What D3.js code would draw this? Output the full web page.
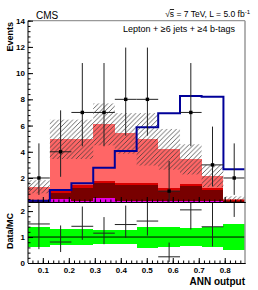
<!DOCTYPE html>
<html><head><meta charset="utf-8">
<script src="https://cdn.jsdelivr.net/npm/d3@7"></script>
<style>body{margin:0;background:#fff}svg{display:block}text{font-family:"Liberation Sans",Arial,Helvetica,sans-serif}</style>
</head><body><svg id="c" width="258" height="290"></svg>
<script>
// ---- data ----
const binEdges=[0.043,0.127,0.210,0.294,0.377,0.461,0.544,0.628,0.711,0.795,0.878];
const dataCounts=[2,4,7,7,8,8,1,7,3,2];
const dataErrLow=[1.29,1.91,2.58,2.58,2.77,2.77,0.83,2.58,1.63,1.29];
const dataErrHigh=[2.64,3.16,3.77,3.77,3.95,3.95,2.30,3.77,2.92,2.64];
const bkgOther=[0.20,0.37,0.24,0.50,0.24,0.24,0.24,0.24,0.22,0.20];
const bkgTTbb=[0.10,0.51,0.97,1.09,1.22,1.20,0.79,1.15,0.86,0.08];
const bkgTTcc=[0.05,0.25,0.25,0.20,0.13,0.20,0.18,0.13,0.13,0.05];
const bkgTTlf=[0.98,3.82,3.49,4.30,3.81,3.31,2.98,1.90,0.94,0.07];
const mcUnc=[0.50,1.50,1.50,1.60,1.55,2.00,1.55,1.15,0.85,0.20];
const signal=[0.27,1.08,1.59,2.78,4.06,5.87,6.93,8.25,8.20,2.66];
const xTicks=[0.1,0.2,0.3,0.4,0.5,0.6,0.7,0.8];
const yTicks=[2,4,6,8,10,12,14];
const rTicks=[0,1,2];

const svg=d3.select("#c");
const L=28,R=245,T=20.7,MB=202,RB=263;
const x=d3.scaleLinear().domain([binEdges[0],binEdges[binEdges.length-1]]).range([L,R]);
const y=d3.scaleLinear().domain([0,14]).range([204.2,T]);
const yr=d3.scaleLinear().domain([0,2.35]).range([RB,MB]);

const defs=svg.append("defs");
defs.append("clipPath").attr("id","cm").append("rect").attr("x",L).attr("y",T).attr("width",R-L).attr("height",MB-T);
defs.append("clipPath").attr("id","cr").append("rect").attr("x",L).attr("y",MB).attr("width",R-L).attr("height",RB-MB);
const pat=defs.append("pattern").attr("id","hatch").attr("patternUnits","userSpaceOnUse").attr("width",4.7).attr("height",4.7);
pat.append("path").attr("d","M-1,1 l2,-2 M0,4.7 l4.7,-4.7 M3.7,5.7 l2,-2").attr("stroke","#333").attr("stroke-width",0.75);

const bins=dataCounts.map((d,i)=>({i,x0:binEdges[i],x1:binEdges[i+1],data:d,lo:dataErrLow[i],hi:dataErrHigh[i],
  other:bkgOther[i],ttbb:bkgTTbb[i],ttcc:bkgTTcc[i],ttlf:bkgTTlf[i],unc:mcUnc[i],sig:signal[i]}));
bins.forEach(b=>b.total=b.other+b.ttbb+b.ttcc+b.ttlf);
const keys=["other","ttbb","ttcc","ttlf"];
const colors={other:"#e600e6",ttbb:"#780000",ttcc:"#d90000",ttlf:"#ff6666"};
const stack=d3.stack().keys(keys)(bins);

const gm=svg.append("g").attr("clip-path","url(#cm)");
stack.forEach(layer=>{
  gm.append("g").selectAll("rect").data(layer).join("rect")
    .attr("x",d=>x(d.data.x0)).attr("width",d=>x(d.data.x1)-x(d.data.x0))
    .attr("y",d=>y(d[1])).attr("height",d=>y(d[0])-y(d[1]))
    .attr("fill",colors[layer.key]).attr("shape-rendering","crispEdges");
});
// hatch uncertainty
gm.append("g").selectAll("rect").data(bins).join("rect")
  .attr("x",d=>x(d.x0)).attr("width",d=>x(d.x1)-x(d.x0))
  .attr("y",d=>y(d.total+d.unc)).attr("height",d=>y(d.total-d.unc)-y(d.total+d.unc))
  .attr("fill","url(#hatch)");
// signal line
const sigPts=bins.map(b=>[b.x0,b.sig]).concat([[binEdges[binEdges.length-1],signal[signal.length-1]]]);
gm.append("path").attr("d",d3.line().x(d=>x(d[0])).y(d=>y(d[1])).curve(d3.curveStepAfter)(sigPts))
  .attr("fill","none").attr("stroke","#000099").attr("stroke-width",2);
// data
const gd=gm.append("g").attr("stroke","#222").attr("stroke-width",1);
gd.selectAll("line.v").data(bins).join("line").attr("class","v")
  .attr("x1",d=>x((d.x0+d.x1)/2)).attr("x2",d=>x((d.x0+d.x1)/2))
  .attr("y1",d=>y(d.data-d.lo)).attr("y2",d=>y(d.data+d.hi));
gd.selectAll("line.h").data(bins).join("line").attr("class","h")
  .attr("x1",d=>x(d.x0)).attr("x2",d=>x(d.x1)).attr("y1",d=>y(d.data)).attr("y2",d=>y(d.data));
gm.append("g").selectAll("rect").data(bins).join("rect")
  .attr("x",d=>x((d.x0+d.x1)/2)-1.7).attr("y",d=>y(d.data)-1.7).attr("width",3.4).attr("height",3.4).attr("fill","#000");

// ratio panel
const gr=svg.append("g").attr("clip-path","url(#cr)");
gr.append("g").selectAll("rect").data(bins).join("rect")
  .attr("x",d=>x(d.x0)).attr("width",d=>x(d.x1)-x(d.x0))
  .attr("y",d=>yr(1+d.unc/d.total)).attr("height",d=>yr(1-d.unc/d.total)-yr(1+d.unc/d.total))
  .attr("fill","#00ff00").attr("shape-rendering","crispEdges");
gr.append("line").attr("x1",L).attr("x2",R).attr("y1",yr(1)).attr("y2",yr(1)).attr("stroke","#000").attr("stroke-width",1);
const grd=gr.append("g").attr("stroke","#222").attr("stroke-width",1);
grd.selectAll("line.v").data(bins).join("line").attr("class","v")
  .attr("x1",d=>x((d.x0+d.x1)/2)).attr("x2",d=>x((d.x0+d.x1)/2))
  .attr("y1",d=>yr((d.data-d.lo)/d.total)).attr("y2",d=>yr((d.data+d.hi)/d.total));
grd.selectAll("line.h").data(bins).join("line").attr("class","h")
  .attr("x1",d=>x(d.x0)).attr("x2",d=>x(d.x1)).attr("y1",d=>yr(d.data/d.total)).attr("y2",d=>yr(d.data/d.total));

// frame
svg.append("line").attr("x1",L).attr("x2",R).attr("y1",T).attr("y2",T).attr("stroke","#999").attr("stroke-width",1.2);
svg.append("line").attr("x1",R).attr("x2",R).attr("y1",T).attr("y2",RB).attr("stroke","#999").attr("stroke-width",1.5);

function styleAxis(g){g.selectAll("text").attr("font-size",8).attr("font-weight","bold").attr("fill","#000").attr("font-family","Liberation Sans, Arial, sans-serif");g.selectAll("line,path").attr("stroke","#000");}
// main y axis
svg.append("g").attr("transform",`translate(${L},0)`).call(d3.axisLeft(y).tickValues(d3.range(0.4,14.01,0.4).filter(v=>y(v)<MB)).tickSize(-2.5).tickFormat("").tickSizeOuter(0)).call(g=>g.select(".domain").remove()).call(styleAxis);
svg.append("g").attr("transform",`translate(${L},0)`).call(d3.axisLeft(y).tickValues(yTicks).tickSize(-5).tickPadding(3).tickSizeOuter(0)).call(g=>g.select(".domain").remove()).call(styleAxis);
svg.append("line").attr("x1",L).attr("x2",L).attr("y1",T).attr("y2",RB).attr("stroke","#000");
// main x axis (no labels)
svg.append("g").attr("transform",`translate(0,${MB})`).call(d3.axisBottom(x).tickValues(d3.range(0.06,0.8781,0.02)).tickSize(-2.5).tickFormat("").tickSizeOuter(0)).call(styleAxis);
svg.append("g").attr("transform",`translate(0,${MB})`).call(d3.axisBottom(x).tickValues(xTicks).tickSize(-5).tickFormat("").tickSizeOuter(0)).call(styleAxis);
// ratio y axis
svg.append("g").attr("transform",`translate(${L},0)`).call(d3.axisLeft(yr).tickValues(d3.range(0.2,2.35,0.2)).tickSize(-2.5).tickFormat("").tickSizeOuter(0)).call(g=>g.select(".domain").remove()).call(styleAxis);
svg.append("g").attr("transform",`translate(${L},0)`).call(d3.axisLeft(yr).tickValues(rTicks).tickSize(-5).tickPadding(3).tickFormat(d3.format("d")).tickSizeOuter(0)).call(g=>g.select(".domain").remove()).call(styleAxis);
// ratio x axis
svg.append("g").attr("transform",`translate(0,${RB})`).call(d3.axisBottom(x).tickValues(d3.range(0.06,0.8781,0.02)).tickSize(-2.5).tickFormat("").tickSizeOuter(0)).call(styleAxis);
svg.append("g").attr("transform",`translate(0,${RB})`).call(d3.axisBottom(x).tickValues(xTicks).tickSize(-5).tickPadding(4).tickFormat(d3.format(".1f")).tickSizeOuter(0)).call(styleAxis);

// texts
svg.append("text").attr("x",36).attr("y",18.5).attr("font-size",10).text("CMS");
const t=svg.append("text").attr("x",250).attr("y",17).attr("text-anchor","end").attr("font-size",8.5);
t.append("tspan").text("\u221A");
t.append("tspan").attr("text-decoration","overline").text("s");
t.append("tspan").text(" = 7 TeV, L = 5.0 fb");
t.append("tspan").attr("font-size",6).attr("dy",-3.5).text("-1");
svg.append("text").attr("x",123).attr("y",32.3).attr("font-size",9).text("Lepton + \u22656 jets + \u22654 b-tags");
svg.append("text").attr("transform","translate(13,22) rotate(-90)").attr("text-anchor","end").attr("font-size",9).attr("font-weight","bold").text("Events");
svg.append("text").attr("transform","translate(13,213) rotate(-90)").attr("text-anchor","end").attr("font-size",9).attr("font-weight","bold").text("Data/MC");
svg.append("text").attr("x",245).attr("y",285).attr("text-anchor","end").attr("font-size",10).attr("font-weight","bold").text("ANN output");
</script></body></html>
